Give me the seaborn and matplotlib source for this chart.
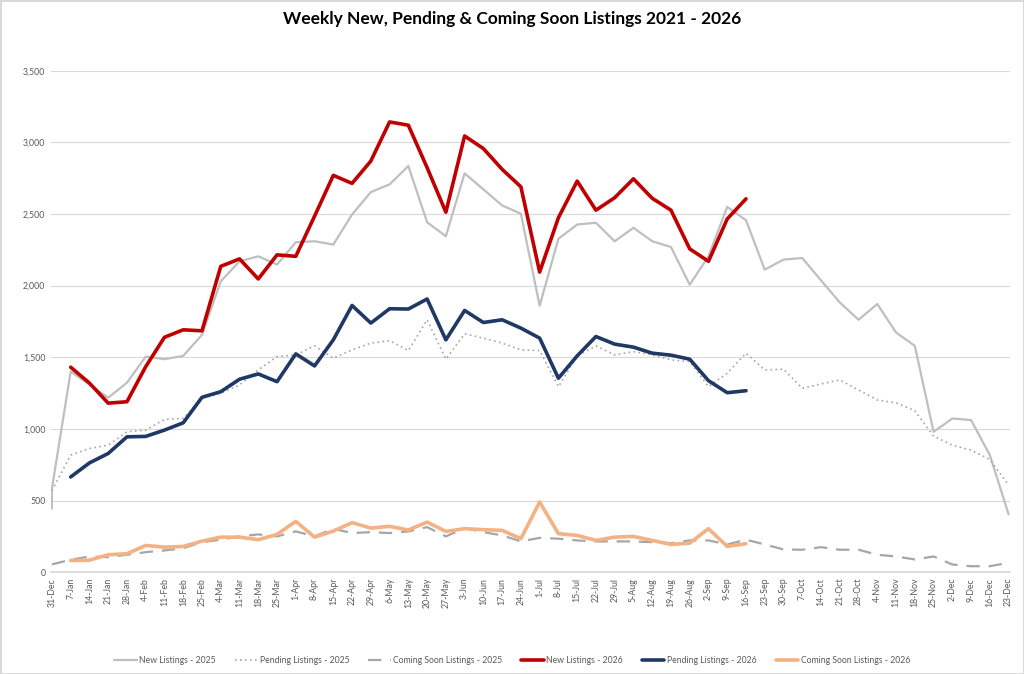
import matplotlib
matplotlib.use("Agg")
import matplotlib.pyplot as plt
import seaborn as sns
import pandas as pd

# week labels (x axis)
weeks = [
    "31-Dec", "7-Jan", "14-Jan", "21-Jan", "28-Jan", "4-Feb", "11-Feb", "18-Feb", "25-Feb",
    "4-Mar", "11-Mar", "18-Mar", "25-Mar", "1-Apr", "8-Apr", "15-Apr", "22-Apr", "29-Apr",
    "6-May", "13-May", "20-May", "27-May", "3-Jun", "10-Jun", "17-Jun", "24-Jun",
    "1-Jul", "8-Jul", "15-Jul", "22-Jul", "29-Jul", "5-Aug", "12-Aug", "19-Aug", "26-Aug",
    "2-Sep", "9-Sep", "16-Sep", "23-Sep", "30-Sep", "7-Oct", "14-Oct", "21-Oct", "28-Oct",
    "4-Nov", "11-Nov", "18-Nov", "25-Nov", "2-Dec", "9-Dec", "16-Dec", "23-Dec",
]

# 2025 series (full year); new listings has two readings on the first week
new_2025 = [445, 585, 1400, 1310, 1218, 1323, 1505, 1487, 1510, 1657, 2030, 2170, 2205, 2147,
            2303, 2310, 2287, 2497, 2653, 2707, 2835, 2443, 2345, 2784, 2672, 2560, 2502,
            1860, 2327, 2427, 2439, 2310, 2404, 2310, 2270, 2007, 2205, 2550, 2457, 2112,
            2182, 2193, 2037, 1883, 1762, 1872, 1673, 1580, 980, 1073, 1062, 817, 404]
pending_2025 = [570, 817, 864, 887, 980, 992, 1067, 1074, 1214, 1249, 1307, 1412, 1505, 1517,
                1580, 1494, 1552, 1599, 1617, 1547, 1762, 1487, 1664, 1634, 1599, 1552, 1547,
                1295, 1510, 1580, 1517, 1540, 1517, 1482, 1470, 1295, 1389, 1529, 1412, 1417,
                1284, 1314, 1342, 1272, 1202, 1183, 1127, 950, 887, 852, 787, 607]
coming_2025 = [55, 87, 110, 105, 122, 140, 152, 168, 210, 227, 250, 264, 250, 285, 250, 304,
               273, 280, 273, 285, 315, 250, 308, 280, 257, 215, 240, 234, 222, 215, 215, 215,
               210, 203, 222, 222, 194, 227, 194, 159, 157, 175, 157, 157, 122, 110, 89, 110,
               54, 42, 42, 66]

# 2026 series (7-Jan to 16-Sep)
new_2026 = [1431, 1320, 1180, 1190, 1435, 1640, 1692, 1685, 2135, 2187, 2047, 2215, 2205,
            2485, 2770, 2714, 2870, 3143, 3120, 2824, 2513, 3045, 2957, 2812, 2690, 2095,
            2474, 2730, 2527, 2614, 2746, 2610, 2527, 2257, 2170, 2466, 2606]
pending_2026 = [665, 763, 829, 945, 948, 992, 1043, 1221, 1260, 1347, 1384, 1330, 1524, 1440,
                1622, 1862, 1739, 1839, 1837, 1907, 1622, 1827, 1743, 1762, 1704, 1634, 1354,
                1510, 1645, 1592, 1571, 1529, 1515, 1487, 1337, 1253, 1267]
coming_2026 = [82, 84, 122, 129, 187, 175, 180, 217, 245, 245, 227, 264, 355, 245, 287, 346,
               308, 320, 295, 350, 285, 304, 297, 292, 234, 490, 269, 257, 222, 245, 250, 222,
               194, 203, 304, 180, 199]

sns.set_theme(style="white")
plt.rcParams["font.family"] = ["Lato", "DejaVu Sans"]

fig = plt.figure(figsize=(10.24, 6.74), dpi=100)
fig.patch.set_edgecolor("#D9D9D9")
fig.patch.set_linewidth(2)
ax = fig.add_axes([0.0498, 0.151, 0.937, 0.744])

x_full = list(range(len(weeks)))
x_new25 = [0] + x_full
x_26 = list(range(1, 1 + len(new_2026)))

series = [
    (x_new25, new_2025, "New Listings - 2025", "#BFBFBF", 1.6, "-"),
    (x_full, pending_2025, "Pending Listings - 2025", "#A6A6A6", 1.2, (0, (1, 2))),
    (x_full, coming_2025, "Coming Soon Listings - 2025", "#A6A6A6", 1.6, (0, (6, 4))),
    (x_26, new_2026, "New Listings - 2026", "#C00000", 2.6, "-"),
    (x_26, pending_2026, "Pending Listings - 2026", "#1F3864", 2.6, "-"),
    (x_26, coming_2026, "Coming Soon Listings - 2026", "#F4B183", 2.6, "-"),
]
for xs, ys, name, color, lw, ls in series:
    df = pd.DataFrame({"week": xs, "value": ys})
    sns.lineplot(data=df, x="week", y="value", ax=ax, color=color, linewidth=lw,
                 linestyle=ls, label=name, estimator=None, sort=False)

ax.set_xlim(-0.05, 51.1)
ax.set_ylim(0, 3500)
ax.set_yticks(range(0, 3501, 500))
ax.set_yticklabels([f"{v:,}" for v in range(0, 3501, 500)])
ax.set_xticks(x_full)
ax.set_xticklabels(weeks, rotation=90)
ax.tick_params(axis="both", labelsize=6.3, colors="#595959", length=0, pad=4)
ax.grid(axis="y", color="#D9D9D9", linewidth=0.8)
ax.set_axisbelow(True)
for side in ["top", "right", "left"]:
    ax.spines[side].set_visible(False)
ax.spines["bottom"].set_color("#D9D9D9")
ax.set_xlabel("")
ax.set_ylabel("")

fig.suptitle("Weekly New, Pending & Coming Soon Listings 2021 - 2026", y=0.983,
             fontsize=12.5, fontweight="bold", color="#000000")

handles, labels = ax.get_legend_handles_labels()
ax.get_legend().remove()
fig.legend(handles, labels, loc="center", bbox_to_anchor=(0.5, 0.02), ncol=6,
           frameon=False, fontsize=6.2, labelcolor="#595959", handlelength=2.6,
           columnspacing=2.2, handletextpad=0.3)

fig.savefig("out.png", dpi=100, edgecolor=fig.get_edgecolor())
